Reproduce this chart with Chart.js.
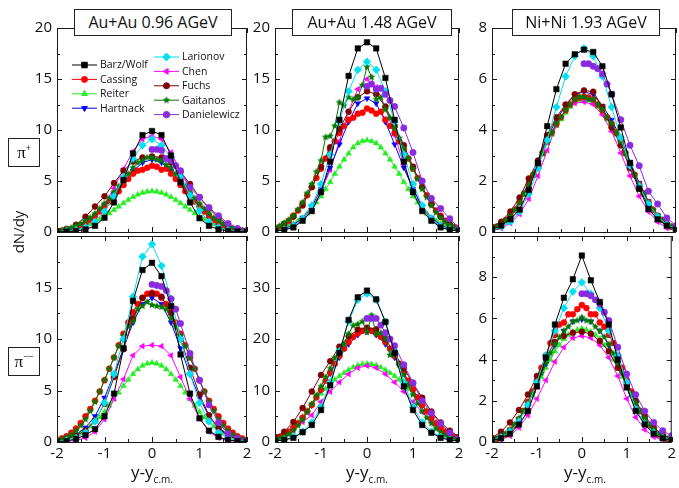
<!DOCTYPE html>
<html>
<head>
<meta charset="utf-8">
<script src="https://cdn.jsdelivr.net/npm/chart.js@4.4.0/dist/chart.umd.min.js"></script>
<style>
  body { margin: 0; background: #fff; width: 679px; height: 488px; position: relative; overflow: hidden; font-family: 'Open Sans', sans-serif; color: #111; }
  canvas { position: absolute; }
  .title { position: absolute; top: 9px; height: 27px; line-height: 25px; font-size: 16px; border: 1px solid #222; background: #fff; text-align: center; box-sizing: border-box; z-index: 2; }
  .pi { position: absolute; left: 8px; width: 32px; height: 29px; border: 1px solid #222; box-sizing: border-box; text-align: center; font: 17px 'Liberation Serif', serif; line-height: 28px; z-index: 2; }
  .pi sup { font: 9px 'Open Sans', sans-serif; vertical-align: 7px; }
  .ylab { position: absolute; left: 18px; top: 232px; transform: translate(-50%, -50%) rotate(-90deg); font-size: 15px; white-space: nowrap; }
  .xlab { position: absolute; top: 460px; transform: translateX(-50%); font-size: 17px; white-space: nowrap; }
  .xlab sub { font-size: 10px; vertical-align: -5px; }
</style>
</head>
<body>
<canvas id="p1"></canvas>
<canvas id="p2"></canvas>
<canvas id="p3"></canvas>
<canvas id="p4"></canvas>
<canvas id="p5"></canvas>
<canvas id="p6"></canvas>

<div class="title" style="left:74px;width:158px;">Au+Au 0.96 AGeV</div>
<div class="title" style="left:292px;width:160px;">Au+Au 1.48 AGeV</div>
<div class="title" style="left:512px;width:148px;">Ni+Ni 1.93 AGeV</div>
<div class="pi" style="top:138px;">π<sup>+</sup></div>
<div class="pi" style="top:347px;">π<sup>−−</sup></div>
<div class="ylab">dN/dy</div>
<div class="xlab" style="left:152px;">y-y<sub>c.m.</sub></div>
<div class="xlab" style="left:367px;">y-y<sub>c.m.</sub></div>
<div class="xlab" style="left:585px;">y-y<sub>c.m.</sub></div>

<script>
// rapidity grids used by the different codes
const X2 = [-2,-1.8,-1.6,-1.4,-1.2,-1,-0.8,-0.6,-0.4,-0.2,0,0.2,0.4,0.6,0.8,1,1.2,1.4,1.6,1.8,2];
const X1 = [-2,-1.9,-1.8,-1.7,-1.6,-1.5,-1.4,-1.3,-1.2,-1.1,-1,-0.9,-0.8,-0.7,-0.6,-0.5,-0.4,-0.3,-0.2,-0.1,0,
            0.1,0.2,0.3,0.4,0.5,0.6,0.7,0.8,0.9,1,1.1,1.2,1.3,1.4,1.5,1.6,1.7,1.8,1.9,2];
const XD = [0,0.1,0.2,0.3,0.4,0.5,0.6,0.8,1,1.2,1.4,1.6,1.8,2];

const seriesNames = ['Barz/Wolf','Cassing','Reiter','Hartnack','Larionov','Chen','Fuchs','Gaitanos','Danielewicz'];
const seriesColors = ['#000000','#ff0000','#22ee22','#0000ff','#00e0f0','#ff00ff','#800000','#007a00','#8a2be2'];
const seriesStyles = ['rect','circle','triangle','triangle','rectRot','triangle','circle','star','circle'];
const seriesRotation = [0,0,0,180,0,-90,0,0,0];
const seriesRadius = [3.9,3.0,3.3,3.3,3.9,3.3,3.0,4.0,3.2];
const seriesGrid = [X2,X1,X1,X2,X2,X2,X2,X1,XD];
const drawOrder = [0,5,8,6,2,7,4,3,1];

// Au+Au 0.96 AGeV, pi+
const bw1 = [0.03,0.05,0.1,0.25,0.6,1.4,2.9,5.1,7.7,9.5,9.9,9.5,7.5,4.9,2.9,1.35,0.6,0.25,0.1,0.05,0.03];
const ca1 = [0.08,0.12,0.2,0.3,0.45,0.65,0.9,1.2,1.6,2.0,2.5,3.0,3.5,4.0,4.6,5.2,5.7,6.0,6.1,6.3,6.5,
             6.4,6.1,6.2,5.7,5.2,4.6,4.0,3.5,3.0,2.5,2.0,1.6,1.2,0.9,0.65,0.45,0.3,0.2,0.12,0.08];
const re1 = [0.08,0.12,0.18,0.25,0.34,0.46,0.6,0.78,1.0,1.24,1.52,1.83,2.16,2.49,2.83,3.14,3.43,3.67,3.85,3.96,4.0,
             3.96,3.85,3.67,3.43,3.14,2.83,2.49,2.16,1.83,1.52,1.24,1.0,0.78,0.6,0.46,0.34,0.25,0.18,0.12,0.08];
const ha1 = [0.12,0.26,0.5,0.95,1.6,2.6,3.7,4.9,6.0,6.8,7.1,6.8,6.0,4.9,3.7,2.6,1.6,0.95,0.5,0.26,0.12];
const la1 = [0.05,0.1,0.2,0.45,1.0,2.0,3.5,5.4,7.2,8.5,9.1,8.5,7.3,5.5,3.6,2.1,1.0,0.45,0.2,0.1,0.05];
const ch1 = [0.05,0.15,0.35,0.75,1.5,2.7,4.3,6.2,7.9,9.1,9.4,9.1,7.8,6.0,4.1,2.5,1.4,0.7,0.3,0.12,0.05];
const fu1 = [0.1,0.3,0.7,1.5,2.5,3.5,4.8,6.0,6.9,7.3,7.4,7.3,6.8,5.9,4.7,3.4,2.3,1.4,0.7,0.3,0.1];
const ga1 = [0.1,0.15,0.25,0.4,0.6,0.8,1.1,1.4,1.8,2.3,2.8,3.3,3.9,4.5,5.1,5.7,6.3,6.8,7.0,7.3,7.3,
             7.1,7.0,6.6,6.3,5.7,5.2,4.5,3.9,3.3,2.8,2.3,1.8,1.4,1.1,0.8,0.6,0.4,0.25,0.15,0.1];
const da1 = [8.1,8.1,8.0,7.2,7.0,6.5,6.0,4.4,3.4,2.4,1.6,0.85,0.35,0.15];

// Au+Au 1.48 AGeV, pi+
const bw2 = [0.1,0.2,0.45,1.1,2.05,3.9,6.9,11.0,15.3,18.0,18.6,18.0,15.1,11.0,6.9,3.9,2.05,1.1,0.45,0.2,0.1];
const ca2 = [0.3,0.5,0.75,1.1,1.6,2.1,2.8,3.6,4.4,5.3,6.2,7.2,8.1,8.9,9.7,10.4,11.0,11.2,11.6,11.7,12.1,
             11.9,11.6,11.8,11.0,10.4,9.7,8.9,8.1,7.2,6.2,5.3,4.4,3.6,2.8,2.1,1.6,1.1,0.75,0.5,0.3];
const re2 = [0.2,0.3,0.43,0.6,0.8,1.1,1.4,1.8,2.3,2.9,3.5,4.2,4.9,5.7,6.4,7.1,7.7,8.3,8.7,8.9,9.0,
             8.9,8.7,8.3,7.7,7.1,6.4,5.7,4.9,4.2,3.5,2.9,2.3,1.8,1.4,1.1,0.8,0.6,0.43,0.3,0.2];
const ha2 = [0.12,0.3,0.7,1.4,2.5,4.2,6.3,8.6,10.8,12.6,13.1,12.6,10.8,8.6,6.3,4.2,2.5,1.4,0.7,0.3,0.12];
const la2 = [0.1,0.25,0.6,1.3,2.6,4.7,7.6,10.8,13.8,15.9,16.7,15.9,13.8,10.8,7.6,4.7,2.6,1.3,0.6,0.25,0.1];
const ch2 = [0.1,0.3,0.6,1.2,2.3,3.9,6.1,8.9,11.8,14.0,15.0,14.2,12.2,9.5,6.6,4.2,2.4,1.2,0.55,0.25,0.1];
const fu2 = [0.35,0.8,1.5,2.6,4.4,6.4,8.3,10.1,11.8,13.2,13.8,13.5,12.3,10.4,8.5,6.4,4.4,2.7,1.5,0.7,0.3];
const ga2 = [0.4,0.6,0.9,1.2,1.6,2.2,2.9,3.8,4.7,5.9,7.0,9.3,9.4,10.4,12.7,12.4,13.2,13.0,13.2,14.4,16.2,
             15.2,13.0,13.2,12.0,11.2,10.2,9.2,8.2,7.2,6.2,5.2,4.2,3.4,2.6,1.9,1.4,1.0,0.7,0.45,0.3];
const da2 = [14.3,14.5,14.0,14.1,13.5,12.9,12.3,10.2,7.8,5.0,3.3,2.3,1.3,0.4];

// Ni+Ni 1.93 AGeV, pi+
const bw3 = [0.1,0.25,0.5,0.88,1.65,2.7,4.15,5.6,6.6,6.97,7.15,7.06,6.5,5.4,4.1,2.7,1.7,0.9,0.5,0.25,0.1];
const ca3 = [0.13,0.21,0.32,0.47,0.64,0.87,1.17,1.51,1.86,2.25,2.65,3.1,3.55,3.9,4.24,4.5,4.77,5.0,5.19,5.27,5.3,
             5.27,5.19,5.0,4.77,4.5,4.24,3.9,3.55,3.1,2.65,2.25,1.86,1.51,1.17,0.87,0.64,0.47,0.32,0.21,0.13];
const re3 = [0.13,0.21,0.31,0.46,0.62,0.86,1.14,1.48,1.82,2.21,2.6,3.04,3.48,3.82,4.16,4.42,4.68,4.91,5.1,5.17,5.2,
             5.17,5.1,4.91,4.68,4.42,4.16,3.82,3.48,3.04,2.6,2.21,1.82,1.48,1.14,0.86,0.62,0.46,0.31,0.21,0.13];
const ha3 = [0.14,0.33,0.66,1.21,1.93,2.75,3.69,4.4,4.95,5.39,5.5,5.39,4.95,4.4,3.69,2.75,1.93,1.21,0.66,0.33,0.14];
const la3 = [0.08,0.2,0.4,0.8,1.5,2.5,3.6,4.9,6.1,6.9,7.2,6.9,6.1,4.9,3.7,2.6,1.8,1.1,0.6,0.3,0.12];
const ch3 = [0.05,0.15,0.35,0.7,1.3,2.2,3.2,4.2,4.8,5.05,5.1,5.0,4.6,3.95,3.1,2.2,1.4,0.8,0.4,0.15,0.05];
const fu3 = [0.2,0.4,0.8,1.35,2.1,2.8,3.8,4.5,5.0,5.4,5.55,5.5,4.9,4.1,3.4,2.5,1.7,1.05,0.6,0.3,0.12];
const ga3 = [0.12,0.2,0.3,0.45,0.62,0.86,1.14,1.5,1.85,2.25,2.65,3.1,3.55,3.9,4.25,4.5,4.8,5.0,5.2,5.3,5.3,
             5.2,5.2,5.0,4.8,4.5,4.25,3.9,3.55,3.1,2.65,2.25,1.85,1.5,1.15,0.87,0.63,0.46,0.31,0.2,0.13];
const da3 = [6.6,6.6,6.5,6.4,6.2,5.8,5.4,4.4,3.4,2.6,1.6,1.1,0.55,0.25];

// Au+Au 0.96 AGeV, pi-
const bw4 = [0.03,0.08,0.3,0.67,1.25,2.5,4.7,9.1,13.7,16.7,17.4,16.1,13.2,8.5,4.7,2.3,1.1,0.5,0.2,0.08,0.03];
const ca4 = [0.2,0.35,0.55,0.9,1.3,1.85,2.5,3.2,4.0,4.9,6.0,7.1,8.2,9.4,10.5,11.6,12.6,13.4,14.0,14.4,14.5,
             14.4,14.0,13.4,12.6,11.6,10.5,9.4,8.2,7.1,6.0,4.9,4.0,3.2,2.5,1.85,1.3,0.9,0.55,0.35,0.2];
const re4 = [0.16,0.24,0.34,0.48,0.65,0.88,1.16,1.51,1.93,2.39,2.93,3.53,4.15,4.8,5.44,6.05,6.6,7.06,7.41,7.62,7.7,
             7.62,7.41,7.06,6.6,6.05,5.44,4.8,4.15,3.53,2.93,2.39,1.93,1.51,1.16,0.88,0.65,0.48,0.34,0.24,0.16];
const ha4 = [0.12,0.3,0.7,1.4,2.5,4.3,6.6,9.1,11.6,13.4,14.0,13.4,11.6,9.1,6.6,4.3,2.5,1.4,0.7,0.3,0.12];
const la4 = [0.05,0.15,0.4,0.9,2.0,3.8,6.6,10.0,14.1,18.0,19.2,17.1,13.9,10.0,6.6,3.8,2.0,0.9,0.4,0.15,0.05];
const ch4 = [0.02,0.05,0.15,0.4,1.0,2.2,4.2,6.1,8.4,9.3,9.4,9.3,8.4,6.3,4.2,2.3,1.0,0.4,0.15,0.05,0.02];
const fu4 = [0.1,0.3,0.6,1.1,2.1,3.7,6.3,9.0,12.0,14.0,14.4,14.1,12.5,10.0,7.2,4.6,2.6,1.3,0.6,0.25,0.1];
const ga4 = [0.15,0.25,0.45,0.7,1.1,1.6,2.2,3.0,3.9,4.9,6.0,7.1,8.2,9.3,10.3,11.2,11.7,12.9,13.2,13.6,13.3,
             13.2,13.1,12.9,12.0,11.2,10.3,9.3,8.2,7.1,6.0,4.9,3.9,3.0,2.2,1.6,1.1,0.7,0.45,0.25,0.15];
const da4 = [15.3,15.2,15.1,14.7,13.9,12.9,11.5,8.6,6.0,3.6,1.9,0.8,0.35,0.15];

// Au+Au 1.48 AGeV, pi-
const bw5 = [0.2,0.4,0.8,1.9,3.3,6.2,11.0,17.3,23.7,28.1,29.4,27.7,23.3,17.3,10.8,6.2,3.3,1.8,0.8,0.4,0.2];
const ca5 = [0.65,1.0,1.4,2.0,2.7,3.6,4.7,5.9,7.2,8.7,10.2,11.9,13.5,15.2,16.7,18.1,19.4,20.4,21.1,21.6,21.8,
             21.6,21.1,20.4,19.4,18.1,16.7,15.2,13.5,11.9,10.2,8.7,7.2,5.9,4.7,3.6,2.7,2.0,1.4,1.0,0.65];
const re5 = [0.4,0.7,1.2,2.0,2.9,3.8,4.9,6.1,7.3,8.4,9.4,10.3,11.2,12.1,12.8,13.4,14.0,14.5,14.9,15.1,15.2,
             15.1,14.9,14.5,14.0,13.4,12.8,12.1,11.2,10.3,9.4,8.4,7.3,6.1,4.9,3.8,2.9,2.0,1.2,0.7,0.4];
const ha5 = [0.6,1.4,2.7,4.6,7.1,10.1,13.3,16.4,19.0,20.8,21.4,20.8,19.0,16.4,13.3,10.1,7.1,4.6,2.7,1.4,0.6];
const la5 = [0.2,0.45,1.0,2.0,3.8,6.8,11.6,17.6,23.4,27.6,28.8,27.6,23.4,17.6,11.6,6.8,3.8,2.0,1.0,0.45,0.2];
const ch5 = [0.5,1.2,2.4,3.9,5.2,7.8,9.8,11.6,13.2,14.4,14.8,14.4,13.2,11.6,9.8,7.8,5.8,3.9,2.4,1.2,0.5];
const fu5 = [1.0,2.0,3.9,6.6,9.8,13.0,15.7,18.5,20.5,21.8,22.2,21.9,20.0,17.2,14.3,11.4,8.6,5.9,3.8,2.2,1.0];
const ga5 = [0.4,0.7,1.0,1.5,2.2,3.2,4.3,5.8,7.4,9.1,10.8,12.6,14.3,16.3,17.8,19.0,21.0,22.6,22.9,23.4,21.3,
             24.6,21.0,21.2,20.0,16.9,17.0,15.0,13.0,11.0,9.2,7.5,6.0,4.7,3.6,2.6,1.9,1.3,0.9,0.6,0.4];
const da5 = [24.0,24.0,24.0,22.7,21.2,20.0,18.7,15.0,11.5,8.0,5.6,3.6,1.8,0.8];

// Ni+Ni 1.93 AGeV, pi-
const bw6 = [0.08,0.18,0.4,0.85,1.5,2.7,4.1,5.7,7.0,7.9,9.05,7.85,6.8,5.7,4.0,2.65,1.5,0.85,0.4,0.18,0.08];
const ca6 = [0.08,0.14,0.22,0.35,0.55,0.8,1.1,1.5,1.95,2.45,3.0,3.6,4.2,4.8,5.2,5.7,5.8,6.2,6.2,6.45,6.65,
             6.5,6.2,6.2,5.8,5.6,5.2,4.8,4.2,3.6,3.0,2.45,1.95,1.5,1.1,0.8,0.55,0.35,0.22,0.14,0.08];
const re6 = [0.09,0.15,0.25,0.38,0.55,0.8,1.1,1.45,1.85,2.25,2.7,3.15,3.6,4.0,4.4,4.7,5.0,5.2,5.35,5.45,5.5,
             5.45,5.35,5.2,5.0,4.7,4.4,4.0,3.6,3.15,2.7,2.25,1.85,1.45,1.1,0.8,0.55,0.38,0.25,0.15,0.09];
const ha6 = [0.12,0.28,0.6,1.1,1.85,2.8,3.8,4.7,5.4,5.85,5.95,5.85,5.4,4.7,3.8,2.8,1.85,1.1,0.6,0.28,0.12];
const la6 = [0.1,0.22,0.5,1.0,1.8,2.9,4.2,5.4,6.5,7.3,7.75,7.2,6.5,5.4,4.2,2.9,1.6,0.9,0.45,0.2,0.1];
const ch6 = [0.05,0.12,0.3,0.7,1.3,2.1,3.0,3.9,4.6,5.05,5.15,5.05,4.7,4.1,3.2,2.1,1.2,0.6,0.25,0.1,0.04];
const fu6 = [0.2,0.5,0.95,1.55,2.3,3.2,4.1,4.85,5.15,5.3,5.35,5.25,4.9,4.4,3.6,2.8,2.0,1.25,0.7,0.35,0.15];
const ga6 = [0.1,0.17,0.27,0.4,0.6,0.85,1.15,1.5,1.9,2.35,2.85,3.35,3.85,4.3,4.75,5.1,5.4,5.6,5.85,5.9,6.05,
             5.9,5.85,5.6,5.4,5.1,4.75,4.3,3.85,3.35,2.85,2.35,1.9,1.5,1.15,0.85,0.6,0.4,0.27,0.17,0.1];
const da6 = [7.2,7.2,7.1,6.9,6.7,6.3,5.9,4.6,3.3,2.3,1.5,0.95,0.55,0.3];

// panel layout (plot area edges in page pixels)
const colLeft = [57, 275, 492];
const colRight = [247, 459, 677];
const rowTop = [24, 232];
const rowBottom = [232, 442];

const panels = [
  { id: 'p1', row: 0, col: 0, ymax: 20, ystep: 5, sets: [bw1, ca1, re1, ha1, la1, ch1, fu1, ga1, da1], legend: true },
  { id: 'p2', row: 0, col: 1, ymax: 20, ystep: 5, sets: [bw2, ca2, re2, ha2, la2, ch2, fu2, ga2, da2] },
  { id: 'p3', row: 0, col: 2, ymax: 8, ystep: 2, sets: [bw3, ca3, re3, ha3, la3, ch3, fu3, ga3, da3] },
  { id: 'p4', row: 1, col: 0, ymax: 20, ystep: 5, sets: [bw4, ca4, re4, ha4, la4, ch4, fu4, ga4, da4] },
  { id: 'p5', row: 1, col: 1, ymax: 40, ystep: 10, sets: [bw5, ca5, re5, ha5, la5, ch5, fu5, ga5, da5] },
  { id: 'p6', row: 1, col: 2, ymax: 10, ystep: 2, sets: [bw6, ca6, re6, ha6, la6, ch6, fu6, ga6, da6] }
];

// filled five-point star used for Gaitanos
function starImage(color, r) {
  const c = document.createElement('canvas');
  const s = Math.ceil(r * 2) + 2;
  c.width = c.height = s;
  const g = c.getContext('2d');
  g.fillStyle = color;
  g.beginPath();
  for (let i = 0; i < 10; i++) {
    const rr = i % 2 ? r * 0.45 : r;
    const a = -Math.PI / 2 + i * Math.PI / 5;
    g.lineTo(s / 2 + rr * Math.cos(a), s / 2 + rr * Math.sin(a));
  }
  g.closePath();
  g.fill();
  return c;
}
const starImg = starImage(seriesColors[7], seriesRadius[7]);

function styleOf(i) {
  return seriesStyles[i] === 'star' ? starImg : seriesStyles[i];
}

function makeDatasets(sets) {
  return sets.map((vals, i) => {
    const xs = seriesGrid[i];
    if (xs.length !== vals.length) console.warn('length mismatch', seriesNames[i]);
    return {
      label: seriesNames[i],
      data: vals.map((v, k) => ({ x: xs[k], y: v })),
      showLine: true,
      borderColor: seriesColors[i],
      backgroundColor: seriesColors[i],
      pointBackgroundColor: seriesColors[i],
      pointBorderColor: seriesColors[i],
      pointStyle: styleOf(i),
      pointRotation: seriesRotation[i],
      pointRadius: seriesRadius[i],
      pointBorderWidth: 0.5,
      borderWidth: 1,
      order: drawOrder[i]
    };
  });
}

// box with inward major/minor ticks on all four sides
const framePlugin = {
  id: 'frame',
  afterDraw(chart, args, opts) {
    const { ctx, chartArea: a } = chart;
    const xs = chart.scales.x, ys = chart.scales.y;
    ctx.save();
    ctx.strokeStyle = '#1a1a1a';
    ctx.lineWidth = 1;
    ctx.strokeRect(a.left + 0.5, a.top + 0.5, a.right - a.left - 1, a.bottom - a.top);
    ctx.beginPath();
    for (let k = 0; k <= 8; k++) {
      const v = -2 + k * 0.5;
      const px = Math.round(xs.getPixelForValue(v)) + 0.5;
      const len = k % 2 === 0 ? 5 : 3;
      ctx.moveTo(px, a.bottom); ctx.lineTo(px, a.bottom - len);
      ctx.moveTo(px, a.top); ctx.lineTo(px, a.top + len);
    }
    const half = opts.step / 2;
    for (let k = 0; k * half <= ys.max + 1e-9; k++) {
      const py = Math.round(ys.getPixelForValue(k * half)) + 0.5;
      const len = k % 2 === 0 ? 5 : 3;
      ctx.moveTo(a.left, py); ctx.lineTo(a.left + len, py);
      ctx.moveTo(a.right, py); ctx.lineTo(a.right - len, py);
    }
    ctx.stroke();
    ctx.restore();
  }
};

// two-column legend inside the first panel
const legendCols = [[0, 1, 2, 3], [4, 5, 6, 7, 8]];
const legendPlugin = {
  id: 'miniLegend',
  afterDraw(chart) {
    const { ctx, chartArea: a } = chart;
    const starts = [{ x: a.left + 15, y: a.top + 37 }, { x: a.left + 97, y: a.top + 29 }];
    ctx.save();
    ctx.font = "10.5px 'Open Sans'";
    ctx.textBaseline = 'middle';
    legendCols.forEach((idxs, c) => {
      idxs.forEach((i, r) => {
        const x = starts[c].x, y = starts[c].y + r * 14.4;
        ctx.strokeStyle = seriesColors[i];
        ctx.fillStyle = seriesColors[i];
        ctx.lineWidth = 1;
        ctx.beginPath();
        ctx.moveTo(x, y);
        ctx.lineTo(x + 25, y);
        ctx.stroke();
        Chart.helpers.drawPoint(ctx, {
          pointStyle: styleOf(i), rotation: seriesRotation[i], radius: seriesRadius[i], borderWidth: 0.5
        }, x + 12.5, y);
        ctx.fillStyle = '#111';
        ctx.fillText(seriesNames[i], x + 28, y + 0.5);
      });
    });
    ctx.restore();
  }
};

panels.forEach(p => {
  const cv = document.getElementById(p.id);
  const padR = p.col === 2 ? 679 - colRight[2] : 12;
  const left = colLeft[p.col] - 40;
  const top = rowTop[p.row] - 10;
  cv.width = colRight[p.col] - colLeft[p.col] + 40 + padR;
  cv.height = rowBottom[p.row] - rowTop[p.row] + 10 + 25;
  cv.style.left = left + 'px';
  cv.style.top = top + 'px';

  const tickFont = { family: "'Open Sans'", size: 15 };
  new Chart(cv, {
    type: 'scatter',
    data: { datasets: makeDatasets(p.sets) },
    options: {
      responsive: false,
      animation: false,
      devicePixelRatio: 1,
      events: [],
      layout: { padding: { top: 10, right: padR, left: 0, bottom: 0 }, autoPadding: false },
      plugins: {
        legend: { display: false },
        tooltip: { enabled: false },
        frame: { step: p.ystep }
      },
      scales: {
        x: {
          type: 'linear', min: -2, max: 2,
          grid: { display: false, drawTicks: false },
          border: { display: false },
          ticks: { stepSize: 1, padding: 3, color: '#111', font: tickFont,
                   callback: v => p.row === 1 ? v : '' },
          afterFit: s => { s.height = 25; }
        },
        y: {
          min: 0, max: p.ymax,
          grid: { display: false, drawTicks: false },
          border: { display: false },
          ticks: { stepSize: p.ystep, padding: 5, color: '#111', font: tickFont,
                   callback: v => (p.row === 1 && v === p.ymax) ? '' : v },
          afterFit: s => { s.width = 40; }
        }
      }
    },
    plugins: p.legend ? [framePlugin, legendPlugin] : [framePlugin]
  });
});
</script>
</body>
</html>
